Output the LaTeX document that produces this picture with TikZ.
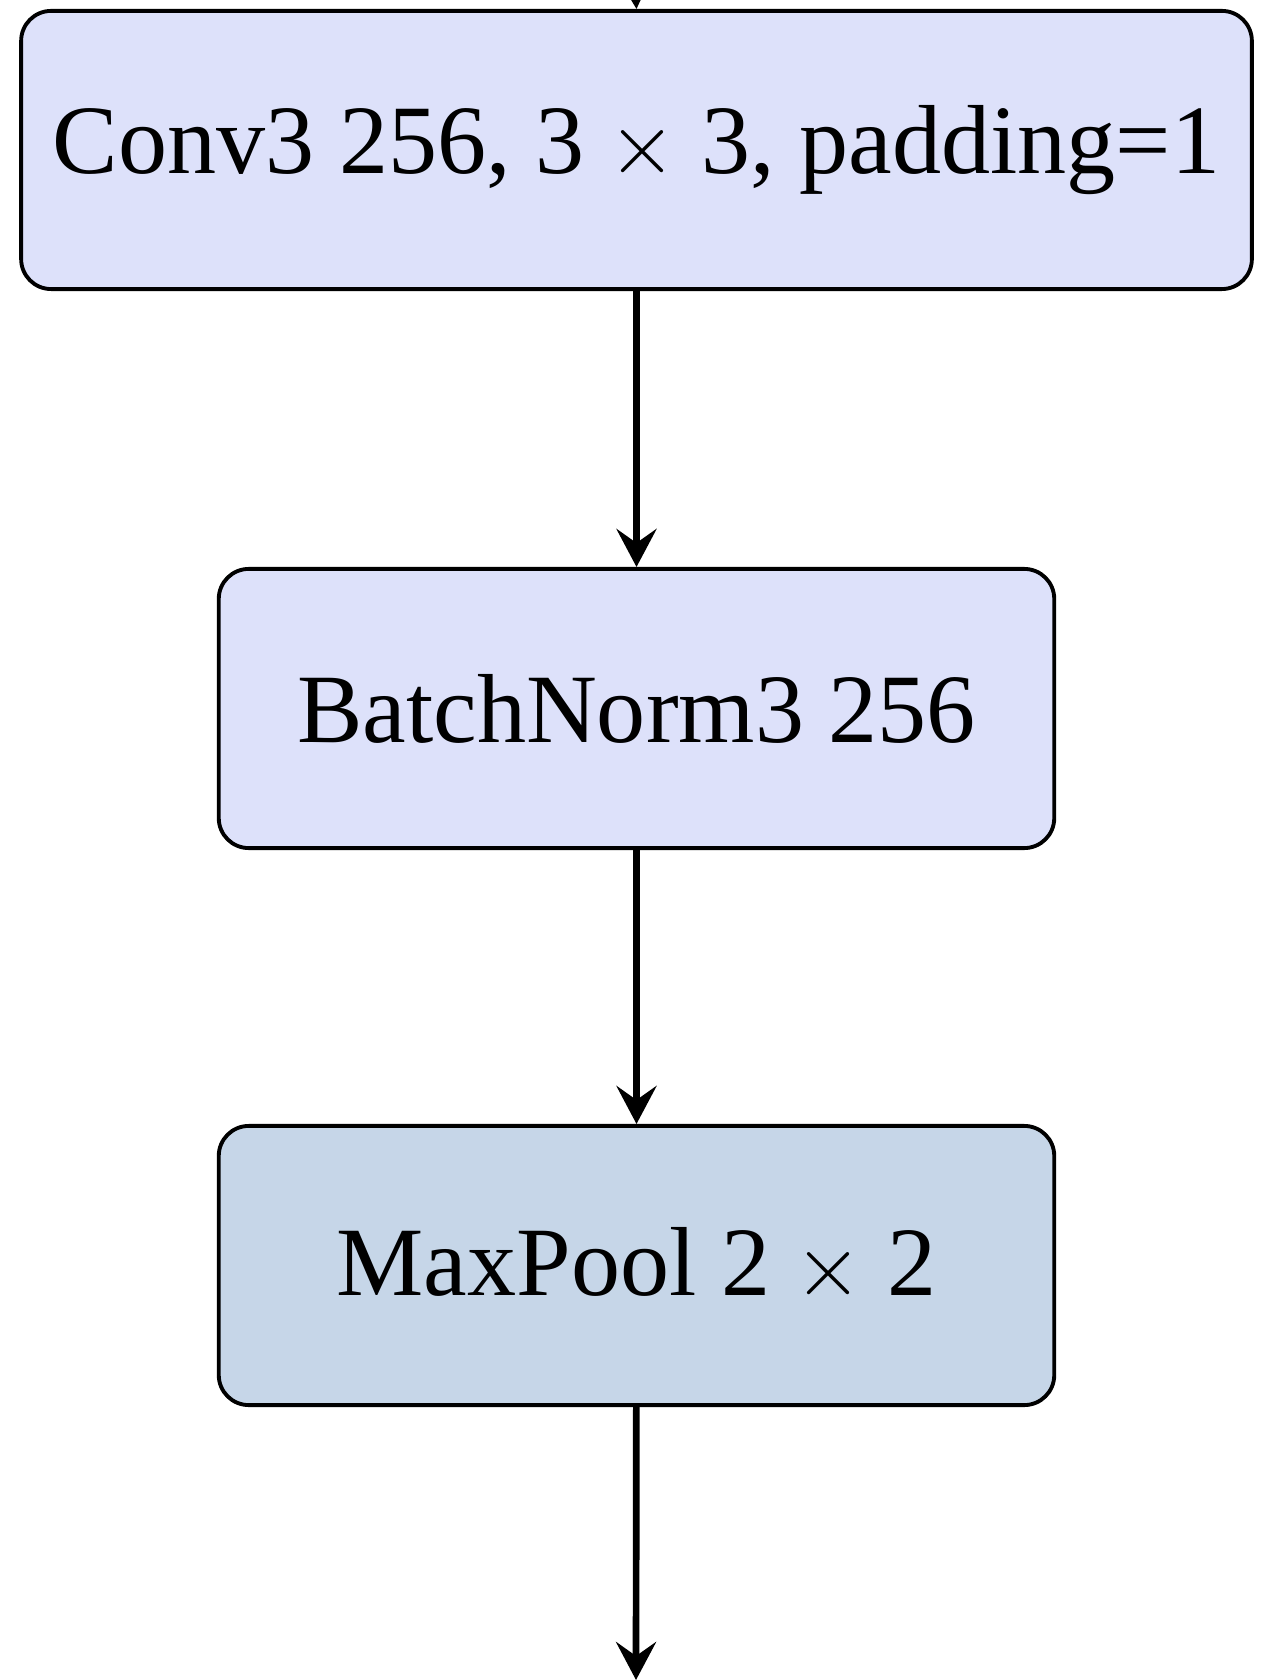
\documentclass[tikz,border=0pt]{standalone}
\usepackage{fontspec}
\setmainfont{Liberation Serif}
\usetikzlibrary{arrows.meta}
\definecolor{convfill}{RGB}{221,225,250}
\definecolor{poolfill}{RGB}{198,214,232}
\begin{document}
\begin{tikzpicture}[x=0.01cm,y=-0.01cm,
  layer/.style={draw=black, line width=1.1pt, rounded corners=0.3cm,
    align=center, inner sep=0pt, font=\fontsize{27.9pt}{34pt}\selectfont},
  flow/.style={line width=1.9pt,
    -{Stealth[length=0.38cm, width=0.40cm, inset=0.14cm]}}]
  \useasboundingbox (0,0) rectangle (1272,1680);
  \coordinate (in) at (636,0);
  \coordinate (out) at (636,1680);
  \node[layer, fill=convfill, minimum width=12.30cm, minimum height=2.78cm]
    (conv) at (636.5,150) {Conv3 256, 3 $\times$ 3, padding=1};
  \node[layer, fill=convfill, minimum width=8.35cm, minimum height=2.79cm]
    (bn) at (636.5,708.5) {BatchNorm3 256};
  \node[layer, fill=poolfill, minimum width=8.35cm, minimum height=2.79cm]
    (pool) at (636.5,1265.5) {MaxPool 2 $\times$ 2};
  \draw[flow] (in) -- (conv.north);
  \draw[flow] (conv) -- (bn);
  \draw[flow] (bn) -- (pool);
  \draw[flow] (pool) -- (out);
\end{tikzpicture}
\end{document}
